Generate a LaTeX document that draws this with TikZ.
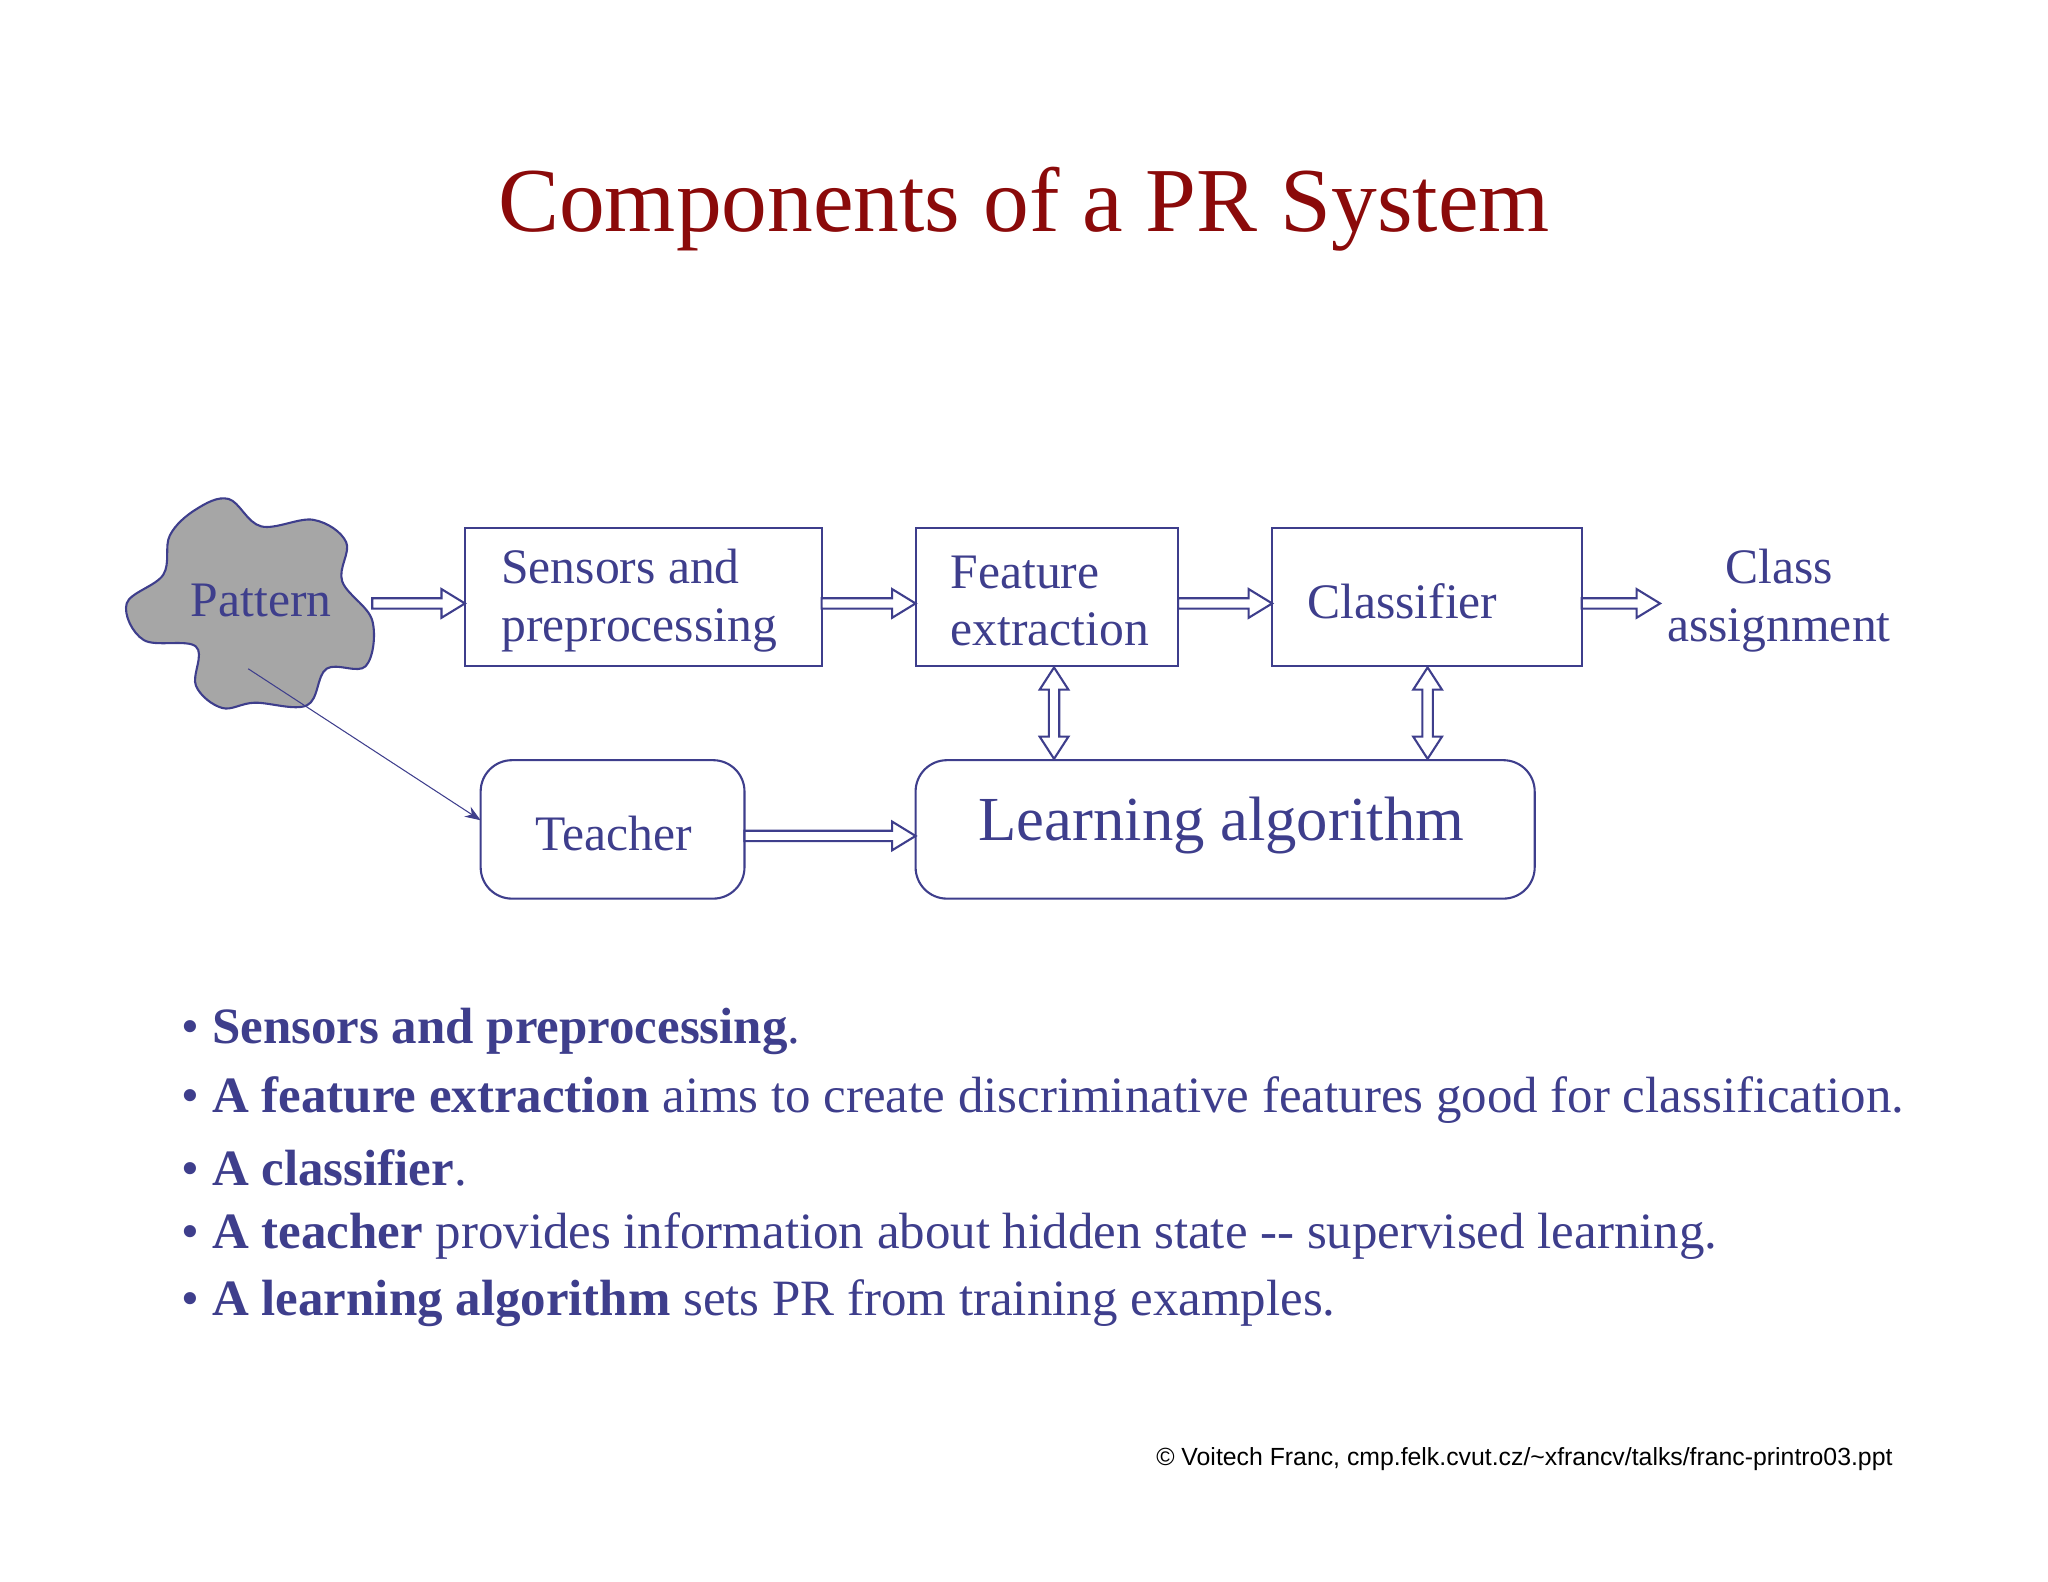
\documentclass[tikz,border=0pt]{standalone}
\usepackage{fontspec}
\setmainfont{Liberation Serif}
\newfontfamily\footfont{Liberation Sans}
\usetikzlibrary{calc,arrows.meta}
\definecolor{tb}{HTML}{3E3E8C}
\definecolor{tr}{HTML}{8B0A0A}
\begin{document}
\begin{tikzpicture}[x=0.5pt,y=-0.5pt,
  box/.style={draw=tb,thick,text=tb,font=\fontsize{19}{22}\selectfont,align=left,inner sep=0},
  ha/.style={draw=tb,thick,fill=white}]
\useasboundingbox (0,0) rectangle (1568,1211);
\node[text=tr,font=\fontsize{35}{40}\selectfont] (title) at (784,160) {Components of a PR System};
% blob
\draw[tb,fill=gray!70,thick] plot[smooth cycle,tension=0.6] coordinates {(150,390)(175,382)(200,403)(240,398)(265,415)(262,445)(285,475)(280,510)(250,512)(235,540)(195,538)(170,542)(150,525)(150,495)(110,490)(97,462)(125,440)(130,410)};
\node[text=tb,font=\fontsize{19}{22}\selectfont] (pat) at (200,460) {Pattern};
\path (97,380) coordinate (pw) (285,542) coordinate (pe);
% boxes
\draw[box] (356,404) rectangle (629,510);
\node[box,draw=none,anchor=west] (sens) at (383,460) {Sensors and\\preprocessing};
\draw[box] (701,404) rectangle (902,510);
\node[box,draw=none,anchor=west] (feat) at (727,460) {Feature\\extraction};
\draw[box] (974,404) rectangle (1211,510);
\node[box,draw=none,anchor=west] (cls) at (1000,460) {Classifier};
\node[box,draw=none,align=center] (ca) at (1362,460) {Class\\assignment};
\draw[box,rounded corners=12] (368,582) rectangle (570,688);
\node[box,draw=none] (teach) at (470,638) {Teacher};
\draw[box,rounded corners=12] (701,582) rectangle (1175,688);
\node[box,draw=none,font=\fontsize{24}{28}\selectfont] (learn) at (935,632) {Learning algorithm};
% hollow horizontal arrows
\newcommand\harr[3]{\draw[ha] (#1,#3-4)--(#2-18,#3-4)--(#2-18,#3-11)--(#2,#3)--(#2-18,#3+11)--(#2-18,#3+4)--(#1,#3+4)--cycle;}
\harr{285}{356}{462}
\harr{629}{701}{462}
\harr{902}{974}{462}
\harr{1211}{1271}{462}
\harr{570}{701}{640}
\newcommand\varr[1]{\draw[ha] (#1-4,528)--(#1-11,528)--(#1,511)--(#1+11,528)--(#1+4,528)--(#1+4,564)--(#1+11,564)--(#1,581)--(#1-11,564)--(#1-4,564)--cycle;}
\varr{807}
\varr{1093}
\draw[tb,-{Stealth[length=6pt]}] (190,512) -- (368,628);
% bullets
\begin{scope}[every node/.style={text=tb,anchor=west,font=\fontsize{19.5}{22}\selectfont}]
\node (b1) at (132,790) {• \textbf{Sensors and preprocessing}.};
\node (b2) at (132,842) {• \textbf{A feature extraction} aims to create discriminative features good for classification.};
\node (b3) at (132,894) {• \textbf{A classifier}.};
\node (b4) at (132,946) {• \textbf{A teacher} provides information about hidden state -{}- supervised learning.};
\node (b5) at (132,998) {• \textbf{A learning algorithm} sets PR from training examples.};
\end{scope}
\node[anchor=east,font=\footfont\fontsize{9.5}{11}\selectfont] (foot) at (1456,1117) {© Voitech Franc, cmp.felk.cvut.cz/\textasciitilde xfrancv/talks/franc-printro03.ppt};
\end{tikzpicture}
\end{document}
